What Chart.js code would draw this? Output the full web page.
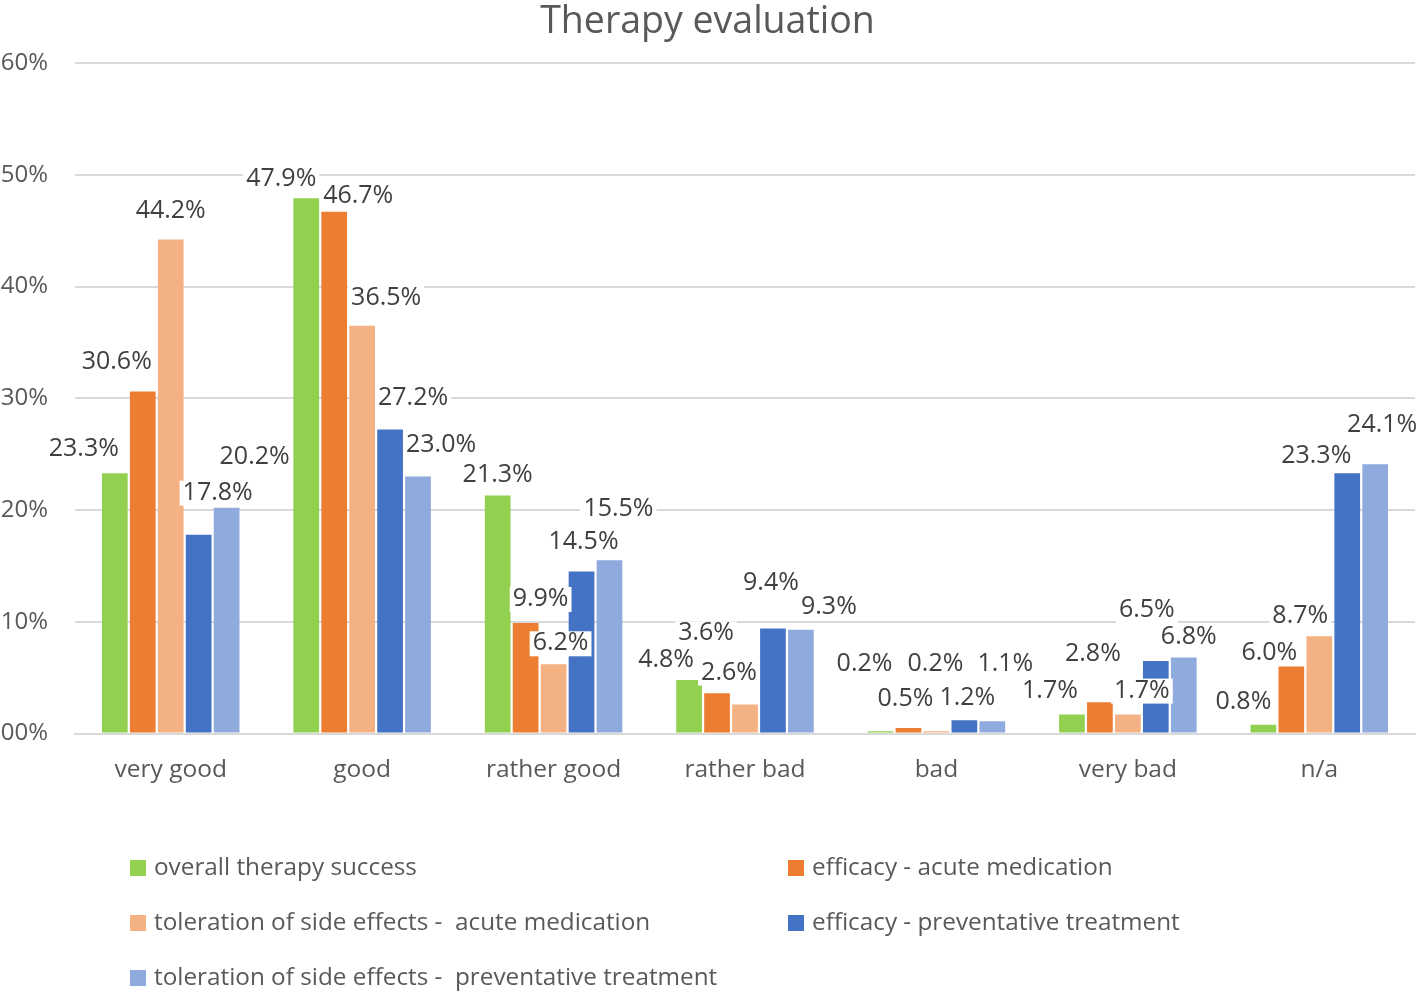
<!DOCTYPE html>
<html><head><meta charset="utf-8">
<script src="https://cdn.jsdelivr.net/npm/chart.js@4"></script>
<style>html,body{margin:0;padding:0;background:#fff;}#wrap{width:1418px;height:994px;position:relative;}</style>
</head><body><div id="wrap"><canvas id="c" width="1418" height="994"></canvas></div>
<script>
const categories = ["very good","good","rather good","rather bad","bad","very bad","n/a"];
const seriesNames = ["overall therapy success","efficacy - acute medication","toleration of side effects -  acute medication","efficacy - preventative treatment","toleration of side effects -  preventative treatment"];
const overallSuccess   = [23.3, 47.9, 21.3, 4.8, 0.2, 1.7, 0.8];
const efficacyAcute    = [30.6, 46.7, 9.9, 3.6, 0.5, 2.8, 6.0];
const tolerationAcute  = [44.2, 36.5, 6.2, 2.6, 0.2, 1.7, 8.7];
const efficacyPrev     = [17.8, 27.2, 14.5, 9.4, 1.2, 6.5, 23.3];
const tolerationPrev   = [20.2, 23.0, 15.5, 9.3, 1.1, 6.8, 24.1];
const yTickLabels = {0:"00%",10:"10%",20:"20%",30:"30%",40:"40%",50:"50%",60:"60%"};
const colors = ["#92D050","#ED7D31","#F4B183","#4472C4","#8FAADC"];
// label placement offsets [dx, dy] relative to bar top-centre (pixels)
const labelOffsets = [
  [[-31,-24],[-25,-19],[0,-21],[-23,-20],[-16,-67],[-22,-24],[-20,-23]],
  [[-26,-30],[24,-16],[15,-24],[-11,-60],[-3,-29],[-7,-48],[-22,-14]],
  [[0,-29],[24,-28],[7,-21],[-16,-32],[-1,-67],[14,-24],[-19,-20]],
  [[19,-42],[23,-32],[2,-30],[-2,-46],[3,-22],[-9,-51],[-31,-17]],
  [[28,-51],[23,-32],[9,-51],[28,-23],[13,-57],[5,-21],[7,-39]]
];
const FONT = "'Open Sans', sans-serif";
const allSeries = [overallSuccess, efficacyAcute, tolerationAcute, efficacyPrev, tolerationPrev];

const labelPlugin = {
  id: 'valLabels',
  afterDatasetsDraw(chart) {
    const ctx = chart.ctx;
    ctx.save();
    ctx.font = "25px " + FONT;
    ctx.textAlign = 'center';
    ctx.textBaseline = 'middle';
    chart.data.datasets.forEach((ds, di) => {
      const meta = chart.getDatasetMeta(di);
      meta.data.forEach((bar, i) => {
        const txt = ds.data[i].toFixed(1) + '%';
        const x = bar.x + labelOffsets[di][i][0];
        const y = bar.y + labelOffsets[di][i][1];
        const w = ctx.measureText(txt).width;
        ctx.fillStyle = '#fff';
        ctx.fillRect(x - w/2 - 3, y - 12, w + 6, 25);
        ctx.fillStyle = '#404040';
        ctx.fillText(txt, x, y);
      });
    });
    ctx.restore();
  }
};

const legendPlugin = {
  id: 'gridLegend',
  afterDraw(chart) {
    const ctx = chart.ctx;
    ctx.save();
    ctx.font = "24.3px " + FONT;
    ctx.textBaseline = 'middle';
    ctx.textAlign = 'left';
    const cols = [130, 788];
    const rows = [868, 923, 978];
    chart.data.datasets.forEach((ds, i) => {
      const x = cols[i % 2], y = rows[Math.floor(i / 2)];
      ctx.fillStyle = ds.backgroundColor;
      ctx.fillRect(x, y - 8, 16, 16);
      ctx.fillStyle = '#595959';
      ctx.fillText(ds.label, x + 24, y);
    });
    ctx.restore();
  }
};

new Chart(document.getElementById('c'), {
  type: 'bar',
  data: {
    labels: categories,
    datasets: allSeries.map((d, i) => ({
      label: seriesNames[i], data: d, backgroundColor: colors[i],
      categoryPercentage: 0.73, barPercentage: 0.92
    }))
  },
  options: {
    responsive: false, animation: false,
    layout: { padding: { left: 0, right: 3, top: 0, bottom: 187 } },
    plugins: {
      legend: { display: false },
      tooltip: { enabled: false },
      title: { display: true, text: 'Therapy evaluation', color: '#595959',
        font: { family: FONT, size: 37.5, weight: 'normal' }, padding: { top: 0, bottom: 18 } }
    },
    scales: {
      x: {
        grid: { display: false, drawTicks: false },
        border: { display: true, color: '#D9D9D9', width: 2 },
        ticks: { color: '#595959', font: { family: FONT, size: 24.5 }, padding: 22 }
      },
      y: {
        min: 0, max: 60,
        afterFit: s => { s.width = 75; },
        grid: { color: '#D9D9D9', lineWidth: 2, drawTicks: false },
        border: { display: false },
        ticks: { stepSize: 10, color: '#595959', font: { family: FONT, size: 24 }, padding: 27,
          callback: v => yTickLabels[v] }
      }
    }
  },
  plugins: [labelPlugin, legendPlugin]
});
</script></body></html>
